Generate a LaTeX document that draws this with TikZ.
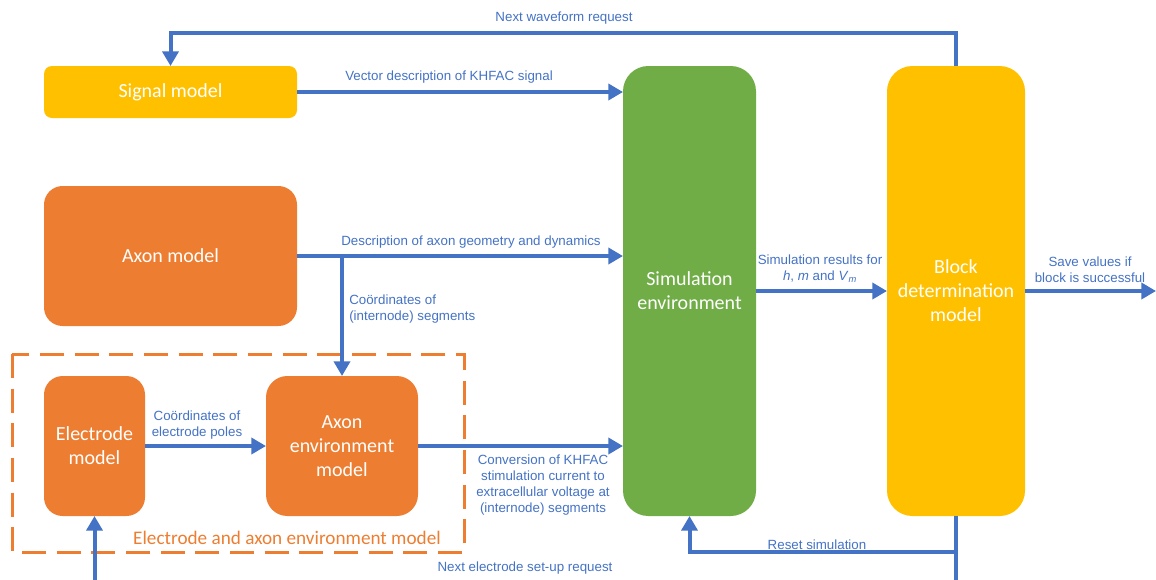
\documentclass[tikz,border=0pt]{standalone}
\usepackage{fontspec}
\setmainfont{Liberation Sans}
\newfontfamily\boxfont{Carlito}
\usetikzlibrary{arrows.meta}
\definecolor{cblue}{HTML}{4472C4}
\definecolor{corange}{HTML}{ED7D31}
\definecolor{cyellow}{HTML}{FFC000}
\definecolor{cgreen}{HTML}{70AD47}
\tikzset{
  mbox/.style={draw=none, inner sep=0pt, outer sep=0pt, text=white, align=center,
    font=\boxfont\fontsize{15pt}{18pt}\selectfont},
  arr/.style={draw=cblue, line width=3pt, line join=miter, -{Triangle[length=11pt,width=12pt]}},
  plainline/.style={draw=cblue, line width=3pt, line join=miter},
  lbl/.style={text=cblue, font=\fontsize{10pt}{12pt}\selectfont, inner sep=0pt, align=center},
  dashbox/.style={draw=corange, line width=2.25pt, dash pattern=on 18pt off 8pt},
}
\begin{document}
\begin{tikzpicture}[x=0.75pt,y=-0.75pt]
\useasboundingbox (0,0) rectangle (1156,579);
% boxes
\node[mbox, fill=cyellow, rounded corners=6pt, minimum width=189.75pt, minimum height=39pt] (signal) at (170.5,92) {Signal model};
\node[mbox, fill=corange, rounded corners=14pt, minimum width=189.75pt, minimum height=105pt] (axon) at (170.5,256) {Axon model};
\node[mbox, fill=corange, rounded corners=14pt, minimum width=75.75pt, minimum height=105pt] (elec) at (94.5,446) {Electrode\\model};
\node[mbox, fill=corange, rounded corners=16pt, minimum width=114pt, minimum height=105pt] (axenv) at (342,446) {Axon\\environment\\model};
\node[mbox, fill=cgreen, rounded corners=19pt, minimum width=99.75pt, minimum height=337.5pt] (sim) at (689.5,291) {Simulation\\environment};
\node[mbox, fill=cyellow, rounded corners=19pt, minimum width=103.5pt, minimum height=337.5pt] (block) at (956,291) {Block\\determination\\model};
% dashed group
\draw[dashbox] (12,354) rectangle (464,552);
\node[text=corange, inner sep=0pt, font=\boxfont\fontsize{14.4pt}{16pt}\selectfont] (grouplbl) at (287,538) {Electrode and axon environment model};
% coordinates
\coordinate (outR) at (1156,291);
\coordinate (botR) at (956,583);
\coordinate (botL) at (94.5,583);
% connectors
\draw[arr] (block.north) -- (block.north |- 0,33) -| (signal.north);
\draw[arr] (signal.east) -- (signal.east -| sim.west);
\draw[arr] (axon.east) -- (axon.east -| sim.west);
\draw[arr] (axenv.north |- axon.east) -- (axenv.north);
\draw[arr] (elec.east) -- (axenv.west);
\draw[arr] (axenv.east) -- (axenv.east -| sim.west);
\draw[arr] (sim.east |- block.west) -- (block.west);
\draw[arr] (block.east) -- (outR);
\draw[arr] (block.south) -- (block.south |- 0,552) -| (sim.south);
\draw[plainline] (block.south |- 0,550) -- (botR);
\draw[arr] (botL) -- (elec.south);
% labels
\node[lbl] (l1) at (564,18) {Next waveform request};
\node[lbl] (l2) at (449,77) {Vector description of KHFAC signal};
\node[lbl] (l3) at (471,242) {Description of axon geometry and dynamics};
\node[lbl, anchor=west, align=left] (l4) at (349,309) {Coördinates of\\(internode) segments};
\node[lbl] (l5) at (197,425) {Coördinates of\\electrode poles};
\node[lbl] (l6) at (543,485) {Conversion of KHFAC\\stimulation current to\\extracellular voltage at\\(internode) segments};
\node[lbl] (l7) at (820,269) {Simulation results for\\\textit{h}, \textit{m} and \textit{V}\textsubscript{\textit{m}}};
\node[lbl] (l8) at (1090,270) {Save values if\\block is successful};
\node[lbl] (l9) at (817,545) {Reset simulation};
\node[lbl] (l10) at (525,568) {Next electrode set-up request};
\end{tikzpicture}
\end{document}
